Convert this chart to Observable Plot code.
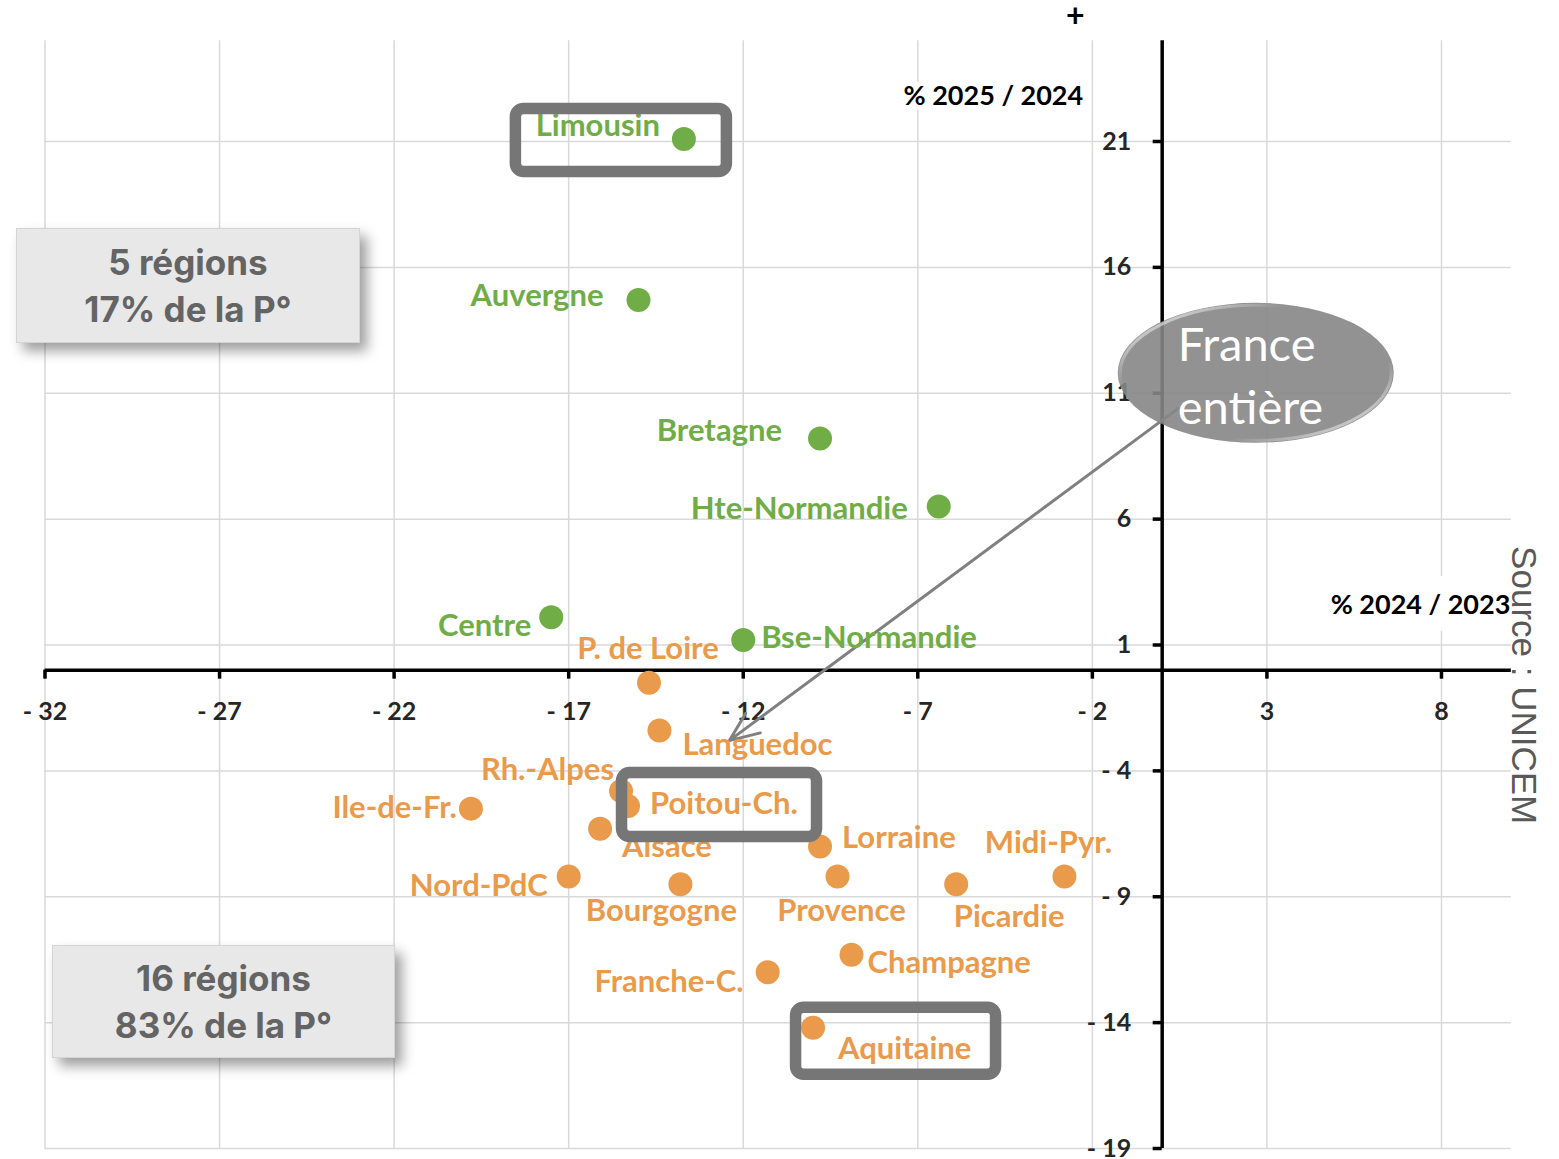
<!DOCTYPE html>
<html>
<head>
<meta charset="utf-8">
<script src="https://cdn.jsdelivr.net/npm/d3@7"></script>
<script src="https://cdn.jsdelivr.net/npm/@observablehq/plot@0.6"></script>
<style>
html, body { margin: 0; padding: 0; background: #fff; }
#wrap { position: relative; width: 1559px; height: 1159px; overflow: hidden; }
.note { position: absolute; background: #e8e8e8; color: #646464; font-family: Inter, "Noto Sans", sans-serif;
  font-weight: 700; font-size: 35px; line-height: 47px; text-align: center;
  box-shadow: 7px 8px 12px rgba(0,0,0,0.38); border: 1px solid #d4d4d4; box-sizing: border-box;
  display: flex; flex-direction: column; justify-content: center; }
</style>
</head>
<body>
<div id="wrap"></div>
<script>
// ---- Data ----
const regionNames = ["Limousin","Auvergne","Bretagne","Hte-Normandie","Centre","Bse-Normandie","P. de Loire","Languedoc","Rh.-Alpes","Poitou-Ch.","Ile-de-Fr.","Alsace","Lorraine","Midi-Pyr.","Nord-PdC","Bourgogne","Provence","Picardie","Champagne","Franche-C.","Aquitaine"];
const evol2024vs2023 = [-13.7,-15.0,-9.8,-6.4,-17.5,-12.0,-14.7,-14.4,-15.5,-15.3,-19.8,-16.1,-9.8,-2.8,-17.0,-13.8,-9.3,-5.9,-8.9,-11.3,-10.0];
const evol2025vs2024 = [21.1,14.7,9.2,6.5,2.1,1.2,-0.5,-2.4,-4.8,-5.4,-5.5,-6.3,-7.0,-8.2,-8.2,-8.5,-8.2,-8.5,-11.3,-12.0,-14.2];
const franceEntiere = { x: -12.4, y: -2.8 };
const xTicks = [-32,-27,-22,-17,-12,-7,-2,3,8];
const yTicks = [-19,-14,-9,-4,1,6,11,16,21];
const highlighted = ["Limousin","Poitou-Ch.","Aquitaine"];
const noteTop = ["5 régions", "17% de la P°"];
const noteBottom = ["16 régions", "83% de la P°"];

// ---- Label layout (pixel offsets from each dot) ----
const labelAnchor = ["end","end","end","end","end","start","middle","start","end","start","end","start","start","middle","end","middle","middle","middle","start","end","start"];
const labelDx = [-24,-35,-38,-31,-20,18,-1,23,-7,22,-14,22,22,-16,-21,-19,4,53,16,-24,25];
const labelDy = [-13,-4,-7,3,9,-2,-34,14,-21,-2,-1,18,-8,-34,9,27,34,33,8,10,21];
const highlightPad = [
  { name: "Limousin",   left: -168, top: -30, right: 43,  bottom: 33 },
  { name: "Poitou-Ch.", left: -6,   top: -33, right: 189, bottom: 31 },
  { name: "Aquitaine",  left: -17,  top: -20, right: 183, bottom: 47 }
];
const calloutTail = { x: 0.46, y: 10.4 };

const GREEN = "#70AD47", ORANGE = "#EA9A4B";
const rows = regionNames.map((name, i) => ({
  name, x: evol2024vs2023[i], y: evol2025vs2024[i],
  group: evol2025vs2024[i] >= 0 ? "hausse" : "baisse",
  anchor: labelAnchor[i], dx: labelDx[i], dy: labelDy[i]
}));
const fmt = d => d < 0 ? "- " + Math.abs(d) : String(d);

const labelMarks = rows.map(r => Plot.text([r], {
  x: "x", y: "y", text: "name", fill: "group",
  textAnchor: r.anchor, dx: r.dx, dy: r.dy,
  fontSize: 31, fontWeight: "bold", fontFamily: "Lato, sans-serif"
}));

const plot = Plot.plot({
  width: 1559, height: 1159,
  marginLeft: 44.5, marginRight: 48.2, marginTop: 40.3, marginBottom: 11,
  x: { domain: [-32, 10], axis: null },
  y: { domain: [-19, 25], axis: null },
  color: { domain: ["hausse", "baisse"], range: [GREEN, ORANGE] },
  style: { fontFamily: "Lato, sans-serif", background: "white", overflow: "visible" },
  marks: [
    Plot.ruleX(xTicks, { stroke: "#d9d9d9", strokeWidth: 1.5 }),
    Plot.ruleY(yTicks, { stroke: "#d9d9d9", strokeWidth: 1.5 }),
    Plot.text(["% 2024 / 2023"], { y: 0, frameAnchor: "right", textAnchor: "end", lineAnchor: "middle", dx: -1, dy: -65,
      fontSize: 27, fontWeight: "bold", fill: "black", stroke: "white", strokeWidth: 36 }),
    Plot.text(["% 2025 / 2024"], { x: 0, frameAnchor: "top", textAnchor: "end", lineAnchor: "middle", dx: -79, dy: 56,
      fontSize: 27, fontWeight: "bold", fill: "black", stroke: "white", strokeWidth: 10 }),
    Plot.text(["+"], { x: 0, frameAnchor: "top", textAnchor: "middle", lineAnchor: "middle", dx: -87, dy: -24,
      fontSize: 32, fontWeight: "bold", fill: "black" }),
    Plot.ruleY([0], { stroke: "black", strokeWidth: 3.5 }),
    Plot.ruleX([0], { stroke: "black", strokeWidth: 3.5 }),
    Plot.ruleX(xTicks, { y1: 0, y2: 0, insetBottom: -9, stroke: "black", strokeWidth: 3.5 }),
    Plot.ruleY(yTicks, { x1: 0, x2: 0, insetLeft: -9, stroke: "black", strokeWidth: 3.5 }),
    Plot.text(xTicks, { x: d => d, y: 0, text: fmt, dy: 42, fontSize: 25, fontWeight: "bold", fill: "#262626" }),
    Plot.text(yTicks, { x: 0, y: d => d, text: fmt, textAnchor: "end", lineAnchor: "middle", dx: -31, dy: 0,
      fontSize: 25, fontWeight: "bold", fill: "#262626" }),
    Plot.arrow([{ x1: calloutTail.x, y1: calloutTail.y, x2: franceEntiere.x, y2: franceEntiere.y }],
      { x1: "x1", y1: "y1", x2: "x2", y2: "y2", stroke: "#808080", strokeWidth: 3, headLength: 16, headAngle: 45 }),
    Plot.dot(rows, { x: "x", y: "y", r: 12, fill: "group" }),
    ...labelMarks,
    Plot.text(["Source : UNICEM"], { y: 0, frameAnchor: "right", textAnchor: "middle", lineAnchor: "middle",
      rotate: 90, dx: 12, dy: 15, fontSize: 35, fill: "#595959", fontFamily: "Liberation Sans, Arial, sans-serif" })
  ]
});

const wrap = document.getElementById("wrap");
wrap.appendChild(plot);

// ---- Annotations positioned through the scales ----
const xs = plot.scale("x"), ys = plot.scale("y");
const px = v => xs.apply(v), py = v => ys.apply(v);
const svg = d3.select(plot);

const boxes = svg.append("g");
highlightPad.forEach(b => {
  const r = rows.find(d => d.name === b.name);
  const cx = px(r.x), cy = py(r.y);
  boxes.append("rect")
    .attr("x", cx + b.left).attr("y", cy + b.top)
    .attr("width", b.right - b.left).attr("height", b.bottom - b.top)
    .attr("rx", 8).attr("fill", "none").attr("stroke", "#767676").attr("stroke-width", 11.5);
});

// France entière callout ellipse
const defs = svg.append("defs");
const lg = defs.append("linearGradient").attr("id", "bevel").attr("x1", "0").attr("y1", "0").attr("x2", "1").attr("y2", "1");
lg.append("stop").attr("offset", "0%").attr("stop-color", "#ffffff").attr("stop-opacity", 0.95);
lg.append("stop").attr("offset", "30%").attr("stop-color", "#ffffff").attr("stop-opacity", 0);
lg.append("stop").attr("offset", "70%").attr("stop-color", "#ffffff").attr("stop-opacity", 0);
lg.append("stop").attr("offset", "100%").attr("stop-color", "#ffffff").attr("stop-opacity", 0.9);
const ecx = px(calloutTail.x) + 78, ecy = py(calloutTail.y) - 35;
const callout = svg.append("g");
callout.append("ellipse").attr("cx", ecx).attr("cy", ecy).attr("rx", 138).attr("ry", 70)
  .attr("fill", "#868686").attr("fill-opacity", 0.9);
callout.append("ellipse").attr("cx", ecx).attr("cy", ecy).attr("rx", 135.5).attr("ry", 67.5)
  .attr("fill", "none").attr("stroke", "url(#bevel)").attr("stroke-width", 3);
["France", "entière"].forEach((t, k) => {
  callout.append("text").attr("x", ecx - 78).attr("y", ecy + (k === 0 ? -12 : 51))
    .attr("text-anchor", "start")
    .attr("fill", "white").attr("font-family", "Lato, sans-serif").attr("font-size", 47).text(t);
});

// Summary notes
function addNote(lines, css) {
  const d = document.createElement("div");
  d.className = "note";
  Object.assign(d.style, css);
  lines.forEach(l => { const s = document.createElement("div"); s.textContent = l; d.appendChild(s); });
  wrap.appendChild(d);
}
addNote(noteTop, { left: "16px", top: "228px", width: "344px", height: "115px" });
addNote(noteBottom, { left: "52px", top: "945px", width: "343px", height: "113px" });
</script>
</body>
</html>
